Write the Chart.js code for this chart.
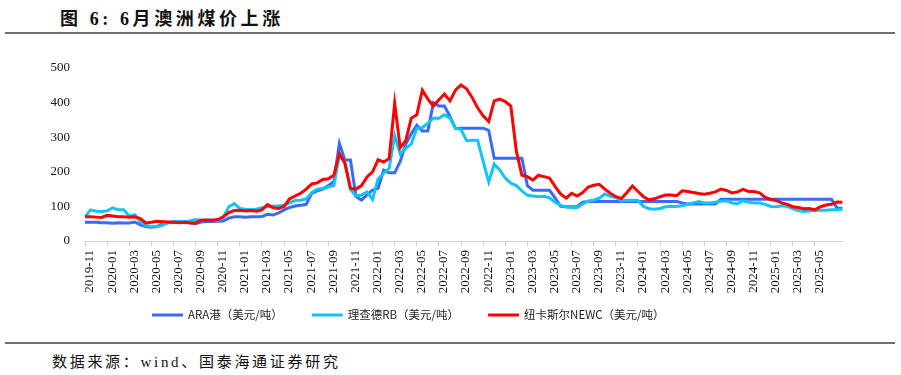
<!DOCTYPE html>
<html><head><meta charset="utf-8">
<script src="https://cdn.jsdelivr.net/npm/chart.js@4/dist/chart.umd.min.js"></script>
<style>
html,body{margin:0;padding:0;background:#fff;width:901px;height:375px;overflow:hidden;position:relative;}
#title{position:absolute;left:60px;top:4px;font:bold 18px "Liberation Serif","Noto Sans CJK SC";letter-spacing:3.6px;color:#111;white-space:nowrap;}
.rule{position:absolute;left:5px;width:890px;height:2px;background:#6e6e6e;}
#src{position:absolute;left:52px;top:350px;font:15px "Liberation Serif","Noto Sans CJK SC";letter-spacing:2.7px;color:#111;white-space:nowrap;}
#wrap{position:absolute;left:0;top:40px;width:901px;height:300px;}
</style></head><body>
<div id="title">图 6: 6月澳洲煤价上涨</div>
<div class="rule" style="top:32px"></div>
<div id="wrap"><canvas id="c" width="901" height="300"></canvas></div>
<div class="rule" style="top:342px"></div>
<div id="src">数据来源：wind、国泰海通证券研究</div>
<script>
// x axis tick labels (every two months, starting 2019-11)
const tickLabels = ['2019-11','2020-01','2020-03','2020-05','2020-07','2020-09','2020-11',
  '2021-01','2021-03','2021-05','2021-07','2021-09','2021-11',
  '2022-01','2022-03','2022-05','2022-07','2022-09','2022-11',
  '2023-01','2023-03','2023-05','2023-07','2023-09','2023-11',
  '2024-01','2024-03','2024-05','2024-07','2024-09','2024-11',
  '2025-01','2025-03','2025-05'];

// series names
const seriesNames = ['ARA港（美元/吨）','理查德RB（美元/吨）','纽卡斯尔NEWC（美元/吨）'];

// prices sampled every half month from the start of 2019-11 (USD/t)
const araPrices = [
  54,54,54,53,53,51,53,52,52,55,
  47,42,40,42,50,53,54,54,54,53,
  50,55,56,56,57,58,66,70,70,69,
  70,70,71,77,75,81,90,97,101,103,
  106,138,145,150,160,172,282,234,234,128,
  118,133,147,152,205,197,197,230,280,310,
  335,318,318,400,390,390,360,325,326,326,
  326,326,326,320,239,239,239,239,239,239,
  160,147,147,147,147,125,100,99,99,99,
  112,114,114,114,114,114,114,114,114,114,
  114,114,114,114,114,114,114,114,110,107,
  107,107,107,107,107,121,121,121,121,121,
  121,121,121,121,121,121,121,121,121,121,
  121,121,121,121,121,121,95,95];

const rbPrices = [
  70,90,86,85,87,96,90,90,72,76,
  55,45,42,41,45,53,56,56,56,58,
  62,60,60,60,60,68,99,108,94,92,
  91,92,96,100,101,101,103,110,117,118,
  122,140,150,152,156,160,250,225,150,130,
  133,142,120,180,195,210,305,252,268,280,
  325,328,340,355,355,365,355,326,322,290,
  291,291,230,171,222,205,182,167,160,145,
  132,130,128,129,125,112,103,98,97,97,
  107,116,118,124,136,129,126,116,117,118,
  117,100,93,92,94,99,100,100,102,106,
  110,114,110,110,112,115,116,110,108,116,
  112,110,110,106,100,99,102,100,93,88,
  85,87,89,89,89,90,90,92];

const newcPrices = [
  70,70,69,68,74,72,70,70,69,70,
  65,52,54,57,56,55,54,53,54,52,
  52,60,61,60,62,70,82,88,89,87,
  88,86,90,105,96,94,100,122,130,138,
  150,165,168,178,180,190,253,225,152,150,
  160,185,200,235,228,238,398,270,290,355,
  365,436,410,390,408,425,405,436,451,440,
  415,385,362,345,405,410,403,390,260,190,
  186,176,190,186,182,158,136,124,138,130,
  140,156,161,164,150,138,128,123,140,159,
  143,128,119,122,128,133,133,131,145,143,
  140,137,135,138,142,150,146,139,142,149,
  143,143,139,126,120,117,110,106,99,97,
  93,94,90,99,104,106,113,112];

const seriesColors = ['#3a6bf7','#12c4f4','#ff0000'];

// months elapsed since start of 2019-11 for each half-month sample
const toPoints = arr => arr.map((v, i) => ({x: i * 0.5, y: v}));

const lineLegend = {
  id: 'lineLegend',
  afterDraw(chart, args, o) {
    const ctx = chart.ctx;
    ctx.save();
    ctx.font = o.font;
    ctx.textBaseline = 'middle';
    let x = o.x;
    chart.data.datasets.forEach(ds => {
      ctx.strokeStyle = ds.borderColor;
      ctx.lineWidth = 3;
      ctx.beginPath(); ctx.moveTo(x, o.y); ctx.lineTo(x + o.lineLen, o.y); ctx.stroke();
      x += o.lineLen + o.gap;
      ctx.fillStyle = o.color;
      ctx.fillText(ds.label, x, o.y);
      x += ctx.measureText(ds.label).width + o.spacing;
    });
    ctx.restore();
  }
};

const mk = (i, data, order) => ({
  label: seriesNames[i], data: toPoints(data), borderColor: seriesColors[i],
  backgroundColor: seriesColors[i], borderWidth: 3, pointRadius: 0, tension: 0, order: order
});

new Chart(document.getElementById('c'), {
  type: 'line',
  data: { datasets: [ mk(0, araPrices, 2), mk(1, rbPrices, 1), mk(2, newcPrices, 0) ] },
  options: {
    responsive: false, animation: false, devicePixelRatio: 1,
    layout: { padding: { left: 0, right: 58.4, top: 28, bottom: 39 } },
    plugins: {
      legend: { display: false }, tooltip: { enabled: false },
      lineLegend: { x: 152, y: 275, lineLen: 31, gap: 5, spacing: 29,
        font: '11.5px "Noto Sans CJK SC"', color: '#222' }
    },
    scales: {
      x: {
        type: 'linear', min: 0, max: 68.5,
        afterBuildTicks: s => { s.ticks = tickLabels.map((_, k) => ({ value: 2 * k })); },
        afterFit: s => { s.height = 60; },
        ticks: { autoSkip: false, minRotation: 90, maxRotation: 90, padding: 4, labelOffset: 5,
          color: '#111', font: { family: 'Liberation Serif', size: 13 },
          callback: v => tickLabels[Math.round(v / 2)] },
        grid: { display: true, drawOnChartArea: false, drawTicks: true, tickLength: 5, color: '#cfcfcf' },
        border: { display: true, color: '#cfcfcf', width: 1 }
      },
      y: {
        min: 0, max: 500,
        afterFit: s => { s.width = 85; },
        ticks: { stepSize: 50, padding: 15, color: '#111', font: { family: 'Liberation Serif', size: 13 } },
        grid: { display: false, drawTicks: false },
        border: { display: false }
      }
    }
  },
  plugins: [lineLegend]
});
</script>
</body></html>
